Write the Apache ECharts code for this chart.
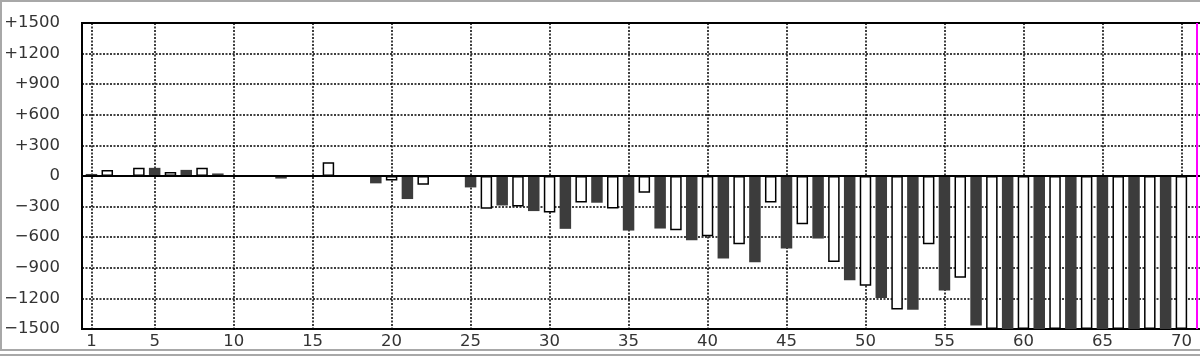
<!DOCTYPE html>
<html>
<head>
<meta charset="utf-8">
<script src="https://cdn.jsdelivr.net/npm/echarts@6/dist/echarts.min.js"></script>
<style>
html,body{margin:0;padding:0;background:#fff;}
#chart{width:1200px;height:359px;}
</style>
</head>
<body>
<div id="chart"></div>
<script>
// Category numbers 1..70 (index of each bar)
var categories = [1,2,3,4,5,6,7,8,9,10,11,12,13,14,15,16,17,18,19,20,
  21,22,23,24,25,26,27,28,29,30,31,32,33,34,35,36,37,38,39,40,
  41,42,43,44,45,46,47,48,49,50,51,52,53,54,55,56,57,58,59,60,
  61,62,63,64,65,66,67,68,69,70];
// Bar values (odd categories dark, even categories white)
var values = [20,60,0,80,80,40,60,80,25,0,
  -3,0,-25,0,0,135,-3,0,-72,-45,
  -226,-85,0,0,-112,-322,-289,-298,-344,-358,
  -518,-259,-262,-318,-535,-164,-515,-531,-630,-590,
  -810,-669,-846,-259,-712,-472,-613,-843,-1023,-1076,
  -1197,-1309,-1312,-669,-1122,-997,-1466,-1500,-1500,-1500,
  -1500,-1500,-1500,-1500,-1500,-1500,-1500,-1500,-1500,-1500];
var xTickValues = [1,5,10,15,20,25,30,35,40,45,50,55,60,65,70];
var yTickValues = [-1500,-1200,-900,-600,-300,0,300,600,900,1200,1500];
var markerX = 71;

var darkData = [], whiteData = [];
for (var i = 0; i < categories.length; i++) {
  if (categories[i] % 2 === 1) darkData.push([categories[i], values[i]]);
  else whiteData.push([categories[i], values[i]]);
}

function yFmt(v) {
  if (v > 0) return '+' + v;
  if (v < 0) return '\u2212' + (-v);
  return '0';
}

var chart = echarts.init(document.getElementById('chart'), null, {renderer: 'canvas'});
var gridLine = {show: true, lineStyle: {color: '#000', width: 1.5, type: [2, 1.5]}};
chart.setOption({
  animation: false,
  backgroundColor: '#fff',
  textStyle: {fontFamily: 'DejaVu Sans'},
  grid: {left: 82, top: 23, height: 306, right: -13, show: true,
         outerBoundsMode: 'none', containLabel: false,
         borderColor: '#000', borderWidth: 2, backgroundColor: '#fff'},
  xAxis: {
    type: 'value', min: 0.4, max: 72,
    axisLine: {show: false},
    axisTick: {show: false, customValues: xTickValues},
    axisLabel: {customValues: xTickValues, color: '#333', fontSize: 16.5,
                fontFamily: 'DejaVu Sans', margin: 4},
    splitLine: gridLine
  },
  yAxis: {
    type: 'value', min: -1500, max: 1500, interval: 300,
    axisLine: {show: false},
    axisTick: {show: false},
    axisLabel: {formatter: yFmt, color: '#333', fontSize: 16.5,
                fontFamily: 'DejaVu Sans', margin: 22},
    splitLine: gridLine
  },
  series: [
    {
      type: 'bar', name: 'dark', data: darkData, barWidth: 11.5, barGap: '-100%',
      itemStyle: {color: '#3c3c3c'},
      markLine: {
        silent: true, symbol: 'none', label: {show: false},
        data: [
          {yAxis: 0, lineStyle: {color: '#000', width: 2, type: 'solid'}},
          {xAxis: markerX, lineStyle: {color: '#ff00ff', width: 2, type: 'solid'}}
        ]
      }
    },
    {
      type: 'bar', name: 'white', data: whiteData, barWidth: 11.5, barGap: '-100%',
      itemStyle: {color: '#fff', borderColor: '#000', borderWidth: 1.5}
    }
  ],
  graphic: [
    {type: 'rect', shape: {x: 0, y: 0, width: 1200, height: 2}, style: {fill: '#a8a8a8'}, silent: true},
    {type: 'rect', shape: {x: 0, y: 0, width: 2, height: 349}, style: {fill: '#a8a8a8'}, silent: true},
    {type: 'rect', shape: {x: 0, y: 349, width: 1200, height: 2}, style: {fill: '#a8a8a8'}, silent: true},
    {type: 'rect', shape: {x: 0, y: 354, width: 1200, height: 2}, style: {fill: '#a8a8a8'}, silent: true}
  ]
});
</script>
</body>
</html>
